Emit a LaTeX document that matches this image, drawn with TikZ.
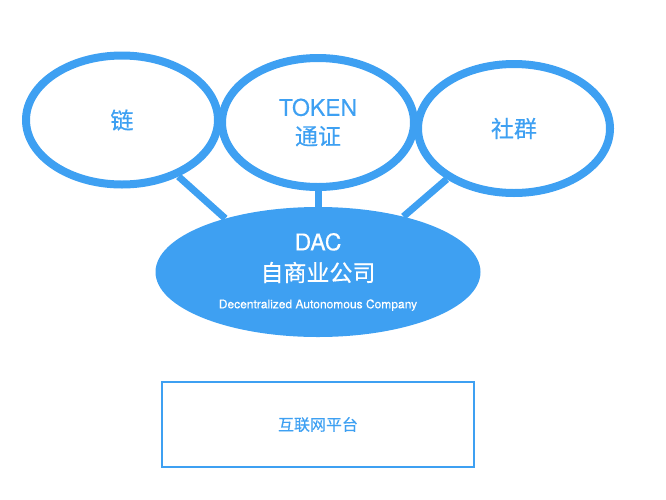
\documentclass[tikz,border=0pt]{standalone}
\usepackage{fontspec}
\setmainfont{TeX Gyre Heros}[FakeBold=0.2]
\newfontfamily\cjk{Noto Sans CJK SC}[FakeBold=0.5]
\usepackage{tikz}
\usetikzlibrary{shapes.geometric}
\usetikzlibrary{positioning}
\definecolor{dacblue}{RGB}{62,160,242}

\begin{document}
\begin{tikzpicture}[x=1pt, y=-1pt,
		ring/.style={draw=dacblue, line width=8pt, ellipse, inner sep=0pt, minimum width=192pt, minimum height=129pt, text=dacblue, align=center, font=\fontsize{23}{28}\selectfont},
		hub/.style={fill=dacblue, ellipse, inner sep=0pt, minimum width=325pt, minimum height=130pt, text=white, align=center},
		link/.style={draw=dacblue, line width=7pt}]
		\useasboundingbox (0,0) rectangle (666,499);
		
		%nodes
		\node[ring] (chain)     at (122,120)   {\cjk 链};
		\node[ring] (token)     at (318,122.5) {TOKEN\\[1pt]\cjk 通证};
		\node[ring] (community) at (514,128.5) {\cjk 社群};
		
		\node[hub, font=\fontsize{23}{31}\selectfont] (dac) at (318,272) {DAC\\{\cjk 自商业公司}\\[-4pt]{\fontsize{12}{14}\selectfont Decentralized Autonomous Company}};
		
		\node[draw=dacblue, line width=1.5pt, minimum width=312pt, minimum height=85pt, text=dacblue, font=\cjk\fontsize{16}{19}\selectfont] (platform) at (318,424.5) {互联网平台};
		
		%links
		\draw[link] (chain.-45) -- (dac.150);
		\draw[link] (token.south) -- (token.south |- dac.north);
		\draw[link] (community.-143) -- (dac.33);
		\end{tikzpicture}
\end{document}
